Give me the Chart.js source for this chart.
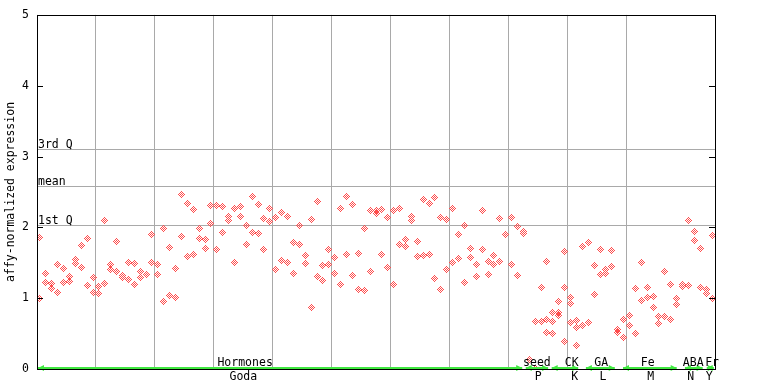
<!DOCTYPE html>
<html><head><meta charset="utf-8">
<script src="https://cdn.jsdelivr.net/npm/chart.js@4/dist/chart.umd.min.js"></script>
<style>html,body{margin:0;padding:0;background:#fff}canvas{display:block}</style>
</head><body>
<canvas id="c" width="768" height="384"></canvas>
<script>
// ---- data ----
const sampleCount = 115;
const replicate1 = [1.86,1.35,1.21,1.47,1.42,1.31,1.54,1.74,1.84,1.29,1.16,2.10,1.47,1.80,1.32,1.50,1.49,1.38,1.33,1.90,
  1.47,1.98,1.71,1.42,2.46,2.33,2.25,1.99,1.83,2.31,2.31,2.29,2.15,2.26,2.29,2.02,2.43,2.32,2.12,2.26,
  2.14,2.21,2.15,1.78,2.02,1.60,2.11,2.36,1.46,1.69,1.57,2.26,2.43,2.32,1.63,1.98,2.24,2.24,2.25,2.14,
  2.24,2.26,1.83,2.15,1.80,2.39,2.34,2.42,2.14,2.11,2.26,1.90,2.02,1.70,1.47,2.24,1.52,1.60,2.12,1.90,
  2.14,2.01,1.94,0.14,0.67,1.15,1.52,0.80,0.95,1.66,1.01,0.69,1.73,1.78,1.46,1.69,1.40,1.67,0.56,0.70,
  0.76,1.14,1.50,1.15,1.02,0.74,1.38,1.19,1.00,1.19,2.09,1.94,1.70,1.12,1.88];
const replicate2 = [1.00,1.22,1.14,1.08,1.22,1.23,1.49,1.44,1.18,1.08,1.07,1.21,1.40,1.38,1.29,1.26,1.19,1.29,null,1.50,
  1.33,0.95,1.04,1.01,1.87,1.59,1.62,1.84,1.70,2.05,1.69,1.93,2.09,1.50,2.16,1.76,1.93,1.91,1.69,2.08,
  1.40,1.53,1.50,1.35,1.76,1.49,0.87,1.31,1.25,1.47,1.35,1.19,1.62,1.32,1.12,1.11,1.38,2.19,1.62,1.43,
  1.19,1.76,1.73,2.09,1.59,1.60,1.62,1.28,1.12,1.40,1.51,1.56,1.22,1.57,1.31,1.69,1.33,1.47,1.52,null,
  1.47,1.32,1.92,null,0.01,0.67,0.70,0.67,0.80,1.15,0.93,0.59,0.62,0.66,1.05,1.33,1.35,1.45,0.52,0.45,
  0.62,0.50,0.97,1.01,0.87,0.64,0.74,0.70,0.91,1.16,1.18,1.81,1.15,1.07,1.00];
const replicate3Index = [86,87,88,89,90,91];
const replicate3 = [0.52,0.50,0.76,0.39,0.66,0.33];
const controlIndex = [0,114];   // samples marked with a black cross (values taken from replicate2)

const yTickValues = [0,1,2,3,4,5];
const refLabels = ['3rd Q','mean','1st Q'];
const refValues = [3.11,2.59,2.04];

const groupNames = ['Hormones','seed','CK','GA','Fe','ABA','Fr'];
const groupStart = [0.17,82.9,87.3,93.1,99.4,109.9,113.6];
const groupEnd   = [82.3,86.7,91.8,98.0,108.5,112.9,114.8];
const groupLabelAt = [35.3,84.8,90.7,95.7,103.6,111.3,114.5];
const subNames = ['Goda','P','K','L','M','N','Y'];
const subLabelAt = [35.0,85.0,91.2,96.0,104.1,110.9,114.0];
const yTitle = 'affy-normalized expression';

// ---- build ----
const FONT = '11.5px "DejaVu Sans Mono", monospace';
const RED = '#ff4c4c';
function diamond(color){
  const c=document.createElement('canvas'); c.width=7; c.height=7;
  const g=c.getContext('2d'); g.fillStyle=color;
  for(let dy=-3;dy<=3;dy++)for(let dx=-3;dx<=3;dx++){
    const d=Math.abs(dx)+Math.abs(dy);
    if(d<=3 && d%2===1) g.fillRect(dx+3,dy+3,1,1);
  }
  return c;
}
function crossMark(){
  const c=document.createElement('canvas'); c.width=3; c.height=3;
  const g=c.getContext('2d'); g.fillStyle='#400000';
  g.fillRect(1,0,1,3); g.fillRect(0,1,3,1);
  return c;
}
const pts=[];
replicate1.forEach((v,i)=>{ if(v!==null) pts.push({x:i+0.5,y:v}); });
replicate2.forEach((v,i)=>{ if(v!==null) pts.push({x:i+0.5,y:v}); });
replicate3.forEach((v,j)=>{ pts.push({x:replicate3Index[j]+0.5,y:v}); });
const ctrl = controlIndex.map(i=>({x:i+0.5,y:replicate2[i]}));

const decor = {
  id:'decor',
  beforeDatasetsDraw(chart){
    const {ctx, chartArea:a, scales:{y}} = chart;
    ctx.save();
    ctx.strokeStyle='#a9a9a9'; ctx.lineWidth=1;
    ctx.font=FONT; ctx.fillStyle='#000'; ctx.textAlign='left'; ctx.textBaseline='alphabetic';
    refValues.forEach((v,i)=>{
      const py=Math.round(y.getPixelForValue(v))+0.5;
      ctx.beginPath(); ctx.moveTo(a.left,py); ctx.lineTo(a.right,py); ctx.stroke();
      ctx.fillText(refLabels[i], a.left+1, py-2);
    });
    ctx.restore();
    ctx.imageSmoothingEnabled=false;
  },
  afterDraw(chart){
    const {ctx, chartArea:a, scales:{x,y}} = chart;
    ctx.save();
    ctx.strokeStyle='#40e840'; ctx.fillStyle='#40e840'; ctx.lineWidth=2;
    const gy=a.bottom-1;
    groupNames.forEach((n,i)=>{
      const x0=x.getPixelForValue(groupStart[i]), x1=x.getPixelForValue(groupEnd[i]);
      ctx.beginPath(); ctx.moveTo(x0,gy); ctx.lineTo(x1,gy); ctx.stroke();
      ctx.beginPath(); ctx.moveTo(x0,gy); ctx.lineTo(x0+6,gy-3); ctx.lineTo(x0+6,gy+3); ctx.closePath(); ctx.fill();
      ctx.beginPath(); ctx.moveTo(x1,gy); ctx.lineTo(x1-6,gy-3); ctx.lineTo(x1-6,gy+3); ctx.closePath(); ctx.fill();
    });
    ctx.strokeStyle='#000'; ctx.lineWidth=1;
    ctx.strokeRect(Math.round(a.left)+0.5, Math.round(a.top)+0.5, Math.round(a.right-a.left), Math.round(a.bottom-a.top));
    yTickValues.forEach(v=>{
      const py=Math.round(y.getPixelForValue(v))+0.5;
      ctx.beginPath(); ctx.moveTo(a.left,py); ctx.lineTo(a.left+6,py);
      ctx.moveTo(a.right,py); ctx.lineTo(a.right-6,py); ctx.stroke();
    });
    ctx.fillStyle='#000'; ctx.font=FONT; ctx.textAlign='center'; ctx.textBaseline='alphabetic';
    groupNames.forEach((n,i)=>ctx.fillText(n, x.getPixelForValue(groupLabelAt[i]), a.bottom-3));
    subNames.forEach((n,i)=>ctx.fillText(n, x.getPixelForValue(subLabelAt[i]), a.bottom+11));
    ctx.translate(11.5,(a.top+a.bottom)/2);
    ctx.rotate(-Math.PI/2);
    ctx.textBaseline='middle';
    ctx.fillText(yTitle,0,0);
    ctx.restore();
  }
};

new Chart(document.getElementById('c'),{
  type:'scatter',
  data:{datasets:[
    {data:pts, pointStyle:diamond(RED), pointRadius:3.5, pointHoverRadius:3.5},
    {data:ctrl, pointStyle:crossMark(), pointRadius:1.5, pointHoverRadius:1.5}
  ]},
  options:{
    responsive:false, animation:false, devicePixelRatio:1,
    layout:{padding:{top:14,right:53,left:0,bottom:0}},
    plugins:{legend:{display:false},tooltip:{enabled:false}},
    scales:{
      x:{type:'linear',min:0,max:sampleCount,
        ticks:{display:false,stepSize:10},
        grid:{color:'#a9a9a9',drawTicks:false,lineWidth:1},
        border:{display:false},
        afterFit(s){s.height=15;}},
      y:{type:'linear',min:0,max:5,
        ticks:{stepSize:1,color:'#000',padding:8,font:{family:'"DejaVu Sans Mono", monospace',size:11.5}},
        grid:{display:false,drawTicks:false},
        border:{display:false},
        afterFit(s){s.width=37;}}
    }
  },
  plugins:[decor]
});
</script>
</body></html>
